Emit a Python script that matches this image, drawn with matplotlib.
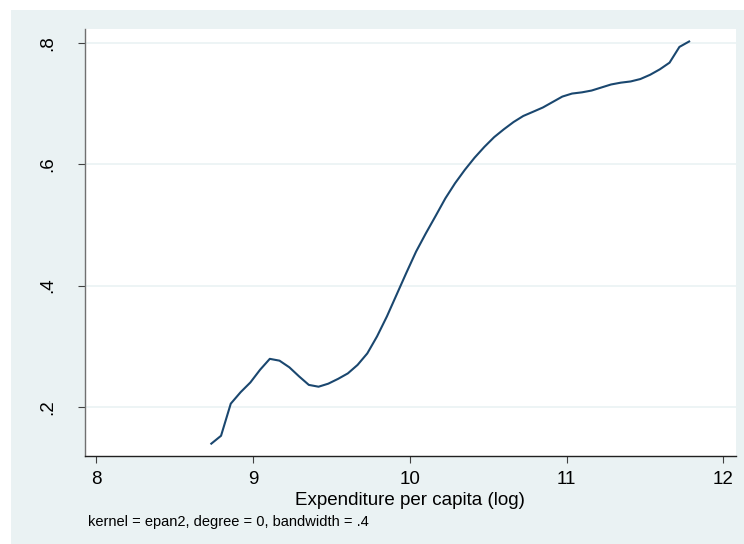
import matplotlib.pyplot as plt
from matplotlib.patches import Rectangle

plt.rcParams['font.family'] = ['Liberation Sans', 'DejaVu Sans']

# local polynomial smooth, 50 grid points
log_exp = [8.734, 8.796, 8.858, 8.921, 8.983, 9.045, 9.107, 9.169, 9.232, 9.294,
           9.356, 9.418, 9.480, 9.543, 9.605, 9.667, 9.729, 9.791, 9.854, 9.916,
           9.978, 10.040, 10.102, 10.165, 10.227, 10.289, 10.351, 10.413, 10.476, 10.538,
           10.600, 10.662, 10.724, 10.787, 10.849, 10.911, 10.973, 11.035, 11.098, 11.160,
           11.222, 11.284, 11.346, 11.409, 11.471, 11.533, 11.595, 11.657, 11.720, 11.782]
smooth = [0.139, 0.152, 0.205, 0.224, 0.240, 0.261, 0.279, 0.276, 0.265, 0.250,
          0.236, 0.233, 0.238, 0.246, 0.255, 0.269, 0.288, 0.316, 0.349, 0.385,
          0.421, 0.456, 0.486, 0.515, 0.544, 0.569, 0.591, 0.611, 0.629, 0.645,
          0.658, 0.670, 0.680, 0.687, 0.694, 0.703, 0.712, 0.717, 0.719, 0.722,
          0.727, 0.732, 0.735, 0.737, 0.741, 0.748, 0.757, 0.768, 0.794, 0.803]

xticks = [8, 9, 10, 11, 12]
yticks = [0.2, 0.4, 0.6, 0.8]
ylabels = ['.2', '.4', '.6', '.8']

W, H = 744, 544
fig = plt.figure(figsize=(W / 100, H / 100), dpi=100)
fig.patch.set_facecolor('white')
# graph region background, kept behind the axes
fig.patches.append(Rectangle((11 / W, 0), 1 - 11 / W, 1 - 10 / H,
                             transform=fig.transFigure, facecolor='#eaf2f3',
                             edgecolor='none', zorder=-10))

ax = fig.add_axes([84.5 / W, 1 - 456 / H, (736 - 84.5) / W, (456 - 29) / H])
ax.set_facecolor('white')
ax.plot(log_exp, smooth, color='#1a476f', lw=1.5, zorder=3)

ax.set_xlim(7.925, 12.081)
ax.set_ylim(0.1186, 0.8236)
ax.set_xticks(xticks)
ax.set_xticklabels([str(t) for t in xticks])
ax.set_yticks(yticks)
ax.set_yticklabels(ylabels, rotation=90, va='center')
ax.grid(axis='y', color='#eaf2f3', lw=1.2)
ax.set_axisbelow(True)

for s in ['top', 'right']:
    ax.spines[s].set_visible(False)
ax.spines['left'].set_color('#707070')
ax.spines['bottom'].set_color('#202020')
ax.spines['left'].set_linewidth(1.0)
ax.spines['bottom'].set_linewidth(1.0)

ax.tick_params(axis='x', length=5, width=0.8, color='#404040', labelsize=13.5, pad=6)
ax.tick_params(axis='y', length=5, width=0.8, color='#404040', labelsize=13.5, pad=15)
ax.set_xlabel('Expenditure per capita (log)', fontsize=13.5, labelpad=3)

fig.text(88 / W, 1 - 522 / H, 'kernel = epan2, degree = 0, bandwidth = .4',
         fontsize=10.5, va='center', ha='left')

fig.savefig('out.png', dpi=100)
